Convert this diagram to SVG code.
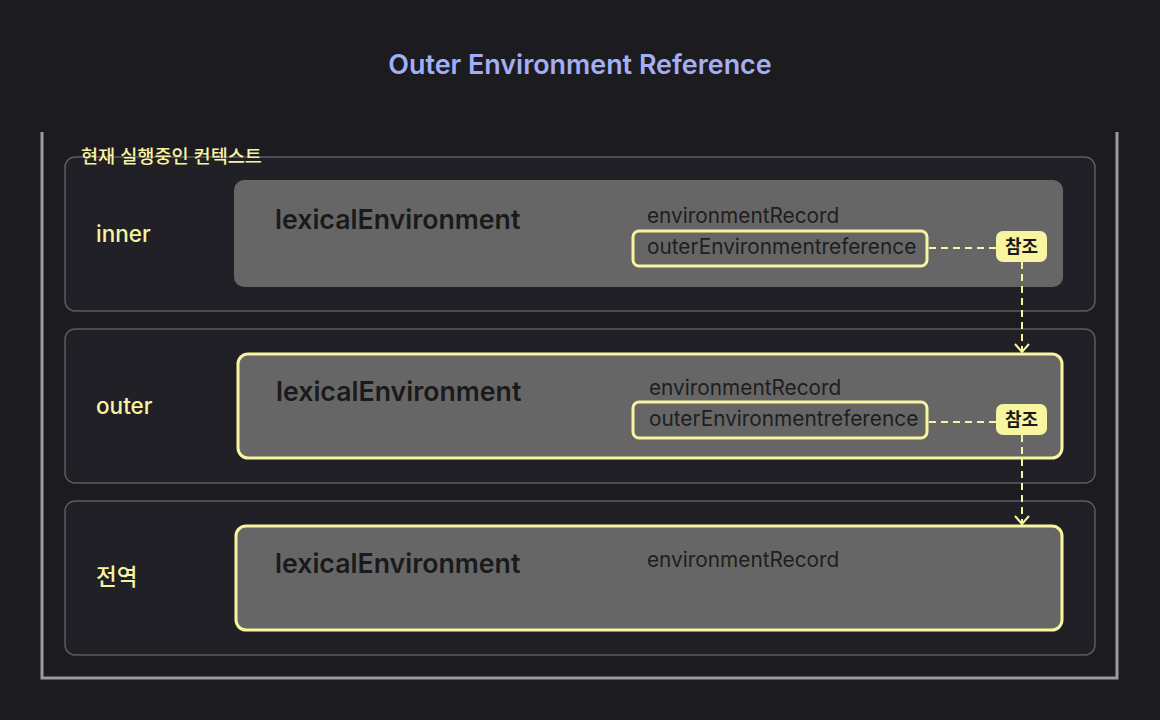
<svg xmlns="http://www.w3.org/2000/svg" width="1160" height="720" viewBox="0 0 1160 720">
  <defs>
    <style>
      .bg { fill: #1c1b20; }
      .frame { fill: none; stroke: #9c9ba2; stroke-width: 3; }
      .row { fill: #202026; stroke: #5a5a5f; stroke-width: 1.5; }
      .le { fill: #666666; }
      .le-hl { fill: #666666; stroke: #f8f5a0; stroke-width: 3; }
      .oer { fill: none; stroke: #f8f5a0; stroke-width: 3; }
      .badge { fill: #f8f5a0; }
      .title { font-family: Inter, "Liberation Sans", sans-serif; font-size: 26.9px; font-weight: 600; fill: #a4aef6; }
      .ctx { font-family: Inter, "Noto Sans CJK KR", sans-serif; font-size: 18.6px; font-weight: 500; fill: #f7f3a3; }
      .rowlabel { font-family: Inter, "Noto Sans CJK KR", sans-serif; font-size: 22.5px; font-weight: 500; fill: #f7f3a3; }
      .lename { font-family: Inter, "Liberation Sans", sans-serif; font-size: 26.7px; font-weight: 600; fill: #1a1a1a; }
      .field { font-family: Inter, "Liberation Sans", sans-serif; font-size: 20.8px; font-weight: 400; fill: #1e1e1e; }
      .badgetext { font-family: Inter, "Noto Sans CJK KR", sans-serif; font-size: 18px; font-weight: 700; fill: #1a1a1a; }
      .conn { fill: none; stroke: #f8f5a0; stroke-width: 2; stroke-dasharray: 7 5; }
    </style>
    <marker id="chev" viewBox="0 0 10 16" refX="9" refY="8" markerWidth="10" markerHeight="16" markerUnits="userSpaceOnUse" orient="auto">
      <path d="M1,1 L9,8 L1,15" fill="none" stroke="#f8f5a0" stroke-width="2"/>
    </marker>
  </defs>

  <rect class="bg" x="0" y="0" width="1160" height="720"/>

  <text class="title" x="580" y="74" text-anchor="middle">Outer Environment Reference</text>

  <g id="frame">
    <path class="frame" d="M42,132 L42,678 L1117,678 L1117,132"/>
  </g>

  <g id="row-inner">
    <rect class="row" x="65" y="157" width="1030" height="154" rx="10"/>
    <text class="ctx" x="81" y="163">현재 실행중인 컨텍스트</text>
    <text class="rowlabel" x="96" y="242">inner</text>
  </g>

  <g id="le-inner">
    <rect class="le" x="234" y="180" width="829" height="107" rx="10"/>
    <text class="lename" x="275" y="229">lexicalEnvironment</text>
    <text class="field" x="647" y="223">environmentRecord</text>
    <rect class="oer" x="633" y="231" width="294" height="35" rx="6"/>
    <text class="field" x="647" y="254">outerEnvironmentreference</text>
  </g>

  <g id="row-outer">
    <rect class="row" x="65" y="329" width="1030" height="154" rx="10"/>
    <text class="rowlabel" x="96" y="414">outer</text>
  </g>

  <g id="le-outer">
    <rect class="le-hl" x="238" y="354" width="824" height="104" rx="10"/>
    <text class="lename" x="276" y="401">lexicalEnvironment</text>
    <text class="field" x="649" y="395">environmentRecord</text>
    <rect class="oer" x="633" y="402" width="294" height="36" rx="6"/>
    <text class="field" x="649" y="426">outerEnvironmentreference</text>
  </g>

  <g id="row-global">
    <rect class="row" x="65" y="501" width="1030" height="154" rx="10"/>
    <text class="rowlabel" x="96" y="585">전역</text>
  </g>

  <g id="le-global">
    <rect class="le-hl" x="236" y="526" width="826" height="104" rx="10"/>
    <text class="lename" x="275" y="573">lexicalEnvironment</text>
    <text class="field" x="647" y="567">environmentRecord</text>
  </g>

  <g id="connectors">
    <path class="conn" d="M929,248 L996,248"/>
    <path class="conn" d="M1022,262 L1022,352" marker-end="url(#chev)"/>
    <path class="conn" d="M929,422 L996,422"/>
    <path class="conn" d="M1022,435 L1022,524" marker-end="url(#chev)"/>
  </g>

  <g id="badge-1">
    <rect class="badge" x="996" y="231" width="51" height="31" rx="7"/>
    <text class="badgetext" x="1021.5" y="253" text-anchor="middle">참조</text>
  </g>
  <g id="badge-2">
    <rect class="badge" x="996" y="404" width="51" height="31" rx="7"/>
    <text class="badgetext" x="1021.5" y="426" text-anchor="middle">참조</text>
  </g>
</svg>
